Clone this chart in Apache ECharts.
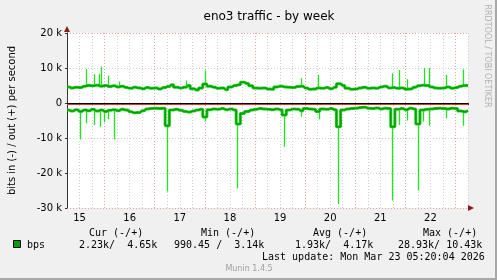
<!DOCTYPE html>
<html><head><meta charset="utf-8">
<script src="https://cdn.jsdelivr.net/npm/echarts@6/dist/echarts.min.js"></script>
<style>html,body{margin:0;padding:0;background:#f0f0f0;}#c{width:497px;height:280px;}</style>
</head><body><div id="c"></div>
<script>
// hours since Mar 15 00:00, one band sample every 2 h starting at 06:00
const bandStartHour = 6;
const bandStepHours = 2;
// out (+) traffic, k bits/s
const outBand = [
4.6,4.3,4.5,4.4,4.8,5.0,4.9,5.1,4.8,5.0,
4.7,4.9,4.6,4.8,4.4,4.2,4.5,4.3,4.1,4.4,
4.2,4.3,4.0,4.4,4.7,5.2,4.5,4.3,4.5,5.0,
4.1,3.7,4.3,5.4,4.8,4.5,4.2,4.3,3.8,4.6,
5.0,5.2,5.9,5.6,4.9,4.3,4.2,4.3,4.0,3.9,
4.6,4.8,4.6,4.5,4.4,4.7,4.8,4.3,3.9,4.0,
4.3,4.2,4.4,4.1,4.5,5.5,5.0,4.2,3.9,4.0,
4.3,4.5,4.2,4.3,4.2,4.6,4.8,4.3,4.4,4.2,
4.3,3.9,4.0,4.5,4.9,5.1,5.0,4.6,4.3,4.2,
4.3,4.6,4.2,4.4,4.8,5.0,4.9];
// in (-) traffic, k bits/s
const inBand = [
-2.0,-2.3,-1.9,-2.4,-2.0,-2.2,-1.8,-2.3,-2.0,-2.4,
-2.1,-1.9,-2.2,-1.8,-2.0,-2.5,-2.8,-2.7,-2.2,-1.7,
-1.6,-1.5,-1.6,-1.5,-6.5,-2.0,-1.8,-2.1,-2.4,-2.6,
-2.3,-2.0,-1.8,-4.0,-1.9,-1.7,-1.8,-1.6,-1.9,-1.7,
-2.0,-6.0,-3.0,-2.4,-2.0,-1.8,-1.6,-1.7,-1.8,-1.9,
-1.7,-1.9,-3.4,-2.0,-1.7,-1.8,-2.2,-1.6,-1.7,-1.8,
-2.4,-1.7,-1.8,-1.6,-1.9,-6.8,-2.0,-1.7,-1.6,-1.5,
-1.3,-1.2,-1.5,-1.6,-1.4,-1.7,-1.5,-1.6,-6.8,-1.8,
-1.6,-1.9,-1.5,-1.7,-6.0,-2.0,-1.8,-1.7,-1.6,-1.5,
-1.6,-1.7,-1.5,-1.6,-2.3,-2.5,-2.2];
// short peaks: [hour, k bits/s]
const outSpikes = [[15.1,9.7],[19.1,8.3],[21.1,8.3],[22.3,10.4],[25.8,7.8],[30.7,6.1],[63.0,6.4],[71.9,9.3],
[117.9,7.1],[126.3,8.0],[161.4,8.5],[164.9,9.4],[168.7,6.8],[176.7,10.0],[179.3,10.0],[187.7,8.0],[195.8,9.6]];
const inSpikes = [[12.0,-10.4],[15.1,-5.8],[18.7,-6.3],[21.9,-6.8],[23.9,-5.5],[25.8,-4.6],[28.3,-10.4],[53.7,-25.3],
[71.9,-5.3],[87.6,-24.4],[110.0,-12.5],[117.9,-3.9],[126.5,-4.7],[135.8,-28.9],[161.4,-27.9],[164.9,-6.3],
[168.7,-5.0],[174.1,-25.0],[176.6,-5.3],[179.4,-6.5],[187.7,-4.4],[195.8,-6.5]];
const dayLabels = ['15','16','17','18','19','20','21','22'];
const yLabelValues = [-30,-20,-10,0,10,20];
const legendHeaders = ['Cur (-/+)','Min (-/+)','Avg (-/+)','Max (-/+)'];
const legendValues = ['2.23k/  4.65k','990.45 /  3.14k','1.93k/  4.17k','28.93k/ 10.43k'];
const lastUpdate = 'Last update: Mon Mar 23 05:20:04 2026';

const toPairs = arr => arr.map((v, i) => [bandStartHour + i * bandStepHours, v]);
const baseAt = (band, t) => {
  let i = Math.round((t - bandStartHour) / bandStepHours);
  i = Math.max(0, Math.min(band.length - 1, i));
  return band[i];
};
const spikeData = (band, sp) => sp.map(([t, v]) => [t, baseAt(band, t), v]);

const GRAY = '#cfcfcf', RED = '#eea0a0';
const spikeSeries = (band, sp) => ({
  type: 'custom', z: 2, silent: true,
  data: spikeData(band, sp),
  encode: {x: 0, y: [1, 2]},
  renderItem: (params, api) => {
    const p1 = api.coord([api.value(0), api.value(1)]);
    const p2 = api.coord([api.value(0), api.value(2)]);
    const x = Math.round(p1[0]) + 0.5;
    return {type: 'line', shape: {x1: x, y1: p1[1], x2: x, y2: p2[1]},
            style: {stroke: '#1ee61e', lineWidth: 1.3, opacity: 1}};
  }
});
const bandSeries = (band, color, w, z) => ({
  type: 'line', z: z, silent: true, showSymbol: false, animation: false, step: 'middle',
  data: toPairs(band),
  lineStyle: {color: color, width: w}
});

const chart = echarts.init(document.getElementById('c'), null, {renderer: 'canvas'});
chart.setOption({
  animation: false,
  backgroundColor: '#f0f0f0',
  textStyle: {fontFamily: 'DejaVu Sans'},
  title: {text: 'eno3 traffic - by week', left: 264, top: 6, textAlign: 'center',
    textStyle: {fontFamily: 'DejaVu Sans', fontSize: 12, fontWeight: 'normal', color: '#000'}},
  grid: {left: 67, top: 33, width: 401, height: 175, show: true, backgroundColor: '#fff', borderWidth: 0,
    containLabel: false, outerBoundsMode: 'none'},
  xAxis: {
    type: 'value', min: 6, max: 198, interval: 6,
    axisLine: {lineStyle: {color: '#333', width: 1}},
    axisTick: {show: true, length: 2, lineStyle: {color: '#333'}},
    axisLabel: {margin: 5, fontSize: 10, color: '#000', fontFamily: 'DejaVu Sans',
      showMinLabel: true, showMaxLabel: true,
      formatter: v => { const r = Math.round(v); return (r - 12) % 24 === 0 ? (dayLabels[(r - 12) / 24] || '') : ''; }},
    splitLine: {show: true, lineStyle: {color: [GRAY, GRAY, GRAY, RED], type: [1, 2], width: 1}}
  },
  yAxis: {
    type: 'value', min: -30, max: 20, interval: 2,
    name: 'bits in (-) / out (+) per second', nameLocation: 'middle', nameRotate: 90, nameGap: 50,
    nameTextStyle: {fontFamily: 'DejaVu Sans', fontSize: 10, color: '#000'},
    axisLine: {show: true, lineStyle: {color: '#333', width: 1}},
    axisTick: {show: true, length: 2, customValues: yLabelValues, lineStyle: {color: '#333'}},
    axisLabel: {margin: 5, fontSize: 10, color: '#000', fontFamily: 'DejaVu Sans',
      formatter: v => { const r = Math.round(v); return yLabelValues.indexOf(r) >= 0 ? (r === 0 ? '0' : r + ' k') : ''; }},
    splitLine: {show: true, lineStyle: {color: [RED, GRAY, GRAY, GRAY, GRAY], type: [1, 2], width: 1}}
  },
  series: [
    spikeSeries(outBand, outSpikes),
    spikeSeries(inBand, inSpikes),
    bandSeries(outBand, '#22d022', 3, 3),
    bandSeries(inBand, '#22d022', 3, 3),
    bandSeries(outBand, '#00a000', 1.5, 4),
    bandSeries(inBand, '#00a000', 1.5, 4),
    {type: 'line', data: [], z: 5, silent: true,
      markLine: {silent: true, symbol: 'none', label: {show: false}, animation: false,
        data: [{yAxis: 0}],
        lineStyle: {color: '#000', width: 1, type: 'solid', shadowColor: '#e03030', shadowOffsetY: 1, shadowBlur: 0}}}
  ],
  graphic: [
    {type: 'polygon', z: 10, shape: {points: [[468, 205], [474, 208], [468, 211]]}, style: {fill: '#8b1c1c'}},
    {type: 'polygon', z: 10, shape: {points: [[64, 32], [67, 26], [70, 32]]}, style: {fill: '#8b1c1c'}},
    {type: 'rect', z: 10, shape: {x: 495, y: 0, width: 2, height: 280}, style: {fill: '#a8a8a8'}},
    {type: 'rect', z: 10, shape: {x: 0, y: 278, width: 497, height: 2}, style: {fill: '#a8a8a8'}},
    {type: 'text', z: 10, x: 487, y: 56, rotation: -Math.PI / 2,
      style: {text: 'RRDTOOL / TOBI OETIKER', font: '8px "DejaVu Sans"', fill: '#b0b0b0', textAlign: 'center', textVerticalAlign: 'middle', align: 'center', verticalAlign: 'middle'}},
    {type: 'rect', z: 10, shape: {x: 13.5, y: 240.5, width: 7, height: 7}, style: {fill: '#00a000', stroke: '#000', lineWidth: 1}},
    {type: 'text', z: 10, x: 27, y: 245, style: {text: 'bps', font: '10px "DejaVu Sans Mono"', fill: '#000', textVerticalAlign: 'middle', verticalAlign: 'middle'}},
    ...legendHeaders.map((h, i) => ({type: 'text', z: 10, x: [89, 201, 313, 423][i], y: 233,
      style: {text: h, font: '10px "DejaVu Sans Mono"', fill: '#000', textVerticalAlign: 'middle', verticalAlign: 'middle'}})),
    ...legendValues.map((h, i) => ({type: 'text', z: 10, x: [79, 174, 295, 398][i], y: 245,
      style: {text: h, font: '10px "DejaVu Sans Mono"', fill: '#000', textVerticalAlign: 'middle', verticalAlign: 'middle'}})),
    {type: 'text', z: 10, x: 262, y: 257, style: {text: lastUpdate, font: '10px "DejaVu Sans Mono"', fill: '#000', textVerticalAlign: 'middle', verticalAlign: 'middle'}},
    {type: 'text', z: 10, x: 249, y: 269, style: {text: 'Munin 1.4.5', font: '8px "DejaVu Sans"', fill: '#a0a0a0', textAlign: 'center', align: 'center', textVerticalAlign: 'middle', verticalAlign: 'middle'}}
  ]
});
</script></body></html>
